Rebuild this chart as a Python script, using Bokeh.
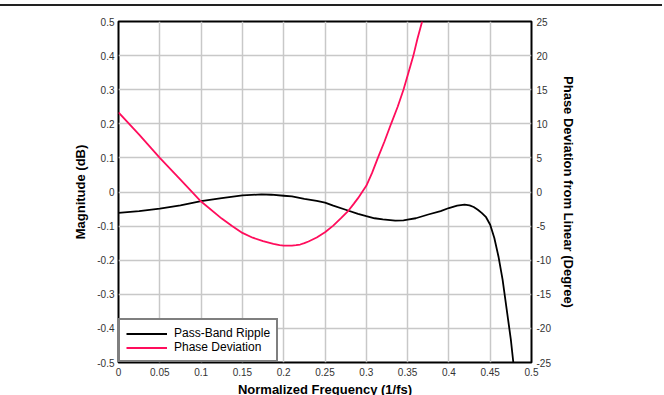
from bokeh.plotting import figure
from bokeh.models import Range1d, LinearAxis, FixedTicker, Legend, LegendItem
from bokeh.embed import file_html
from bokeh.resources import INLINE

# ---- data ----
x_ticks = [0, 0.05, 0.1, 0.15, 0.2, 0.25, 0.3, 0.35, 0.4, 0.45, 0.5]
x_labels = ["0", "0.05", "0.1", "0.15", "0.2", "0.25", "0.3", "0.35", "0.4", "0.45", "0.5"]

mag_ticks = [-0.5, -0.4, -0.3, -0.2, -0.1, 0, 0.1, 0.2, 0.3, 0.4, 0.5]
mag_labels = ["-0.5", "-0.4", "-0.3", "-0.2", "-0.1", "0", "0.1", "0.2", "0.3", "0.4", "0.5"]

phase_ticks = [-25, -20, -15, -10, -5, 0, 5, 10, 15, 20, 25]
phase_labels = ["-25", "-20", "-15", "-10", "-5", "0", "5", "10", "15", "20", "25"]

# Pass-band ripple (dB, left axis)
ripple_freq = [0, 0.025, 0.05, 0.075, 0.1, 0.125, 0.15, 0.173, 0.185, 0.2, 0.21, 0.225,
               0.24, 0.25, 0.26, 0.275, 0.29, 0.3, 0.31, 0.32, 0.335, 0.345, 0.35, 0.36,
               0.375, 0.39, 0.4, 0.41, 0.419, 0.425, 0.43, 0.435, 0.44, 0.445, 0.45,
               0.455, 0.46, 0.465, 0.47, 0.475, 0.478]
ripple_db = [-0.061, -0.056, -0.049, -0.039, -0.027, -0.018, -0.010, -0.007, -0.008, -0.011, -0.013, -0.020,
             -0.026, -0.031, -0.040, -0.052, -0.064, -0.071, -0.077, -0.080, -0.084, -0.083, -0.081, -0.077,
             -0.066, -0.056, -0.047, -0.040, -0.037, -0.039, -0.044, -0.052, -0.062, -0.074, -0.096,
             -0.135, -0.189, -0.257, -0.345, -0.433, -0.5]

# Phase deviation from linear (degree, right axis)
phase_freq = [0, 0.025, 0.05, 0.075, 0.1, 0.125, 0.1375, 0.15, 0.1625, 0.175, 0.1875,
              0.195, 0.2, 0.205, 0.21, 0.215, 0.22, 0.225, 0.23, 0.24, 0.25, 0.26, 0.27,
              0.2776, 0.285, 0.29, 0.295, 0.3, 0.307, 0.314, 0.322, 0.33, 0.338, 0.345, 0.351,
              0.357, 0.362, 0.3676]
phase_deg = [11.66, 8.4, 5.0, 1.8, -1.4, -3.9, -5.0, -6.0, -6.7, -7.2, -7.6,
             -7.8, -7.85, -7.87, -7.85, -7.8, -7.7, -7.5, -7.26, -6.68, -5.9, -4.93, -3.76,
             -2.85, -1.7, -0.9, 0.0, 0.9, 2.8, 5.0, 7.4, 10.0, 12.5, 15.0, 17.5,
             20.0, 22.5, 25.0]

FONT = "Liberation Sans"

p = figure(width=663, height=396, output_backend="svg", toolbar_location=None,
           x_range=Range1d(0, 0.5), y_range=Range1d(-0.5, 0.5),
           min_border_left=118, min_border_right=132, min_border_top=15, min_border_bottom=40,
           styles={"margin-left": "-1px", "margin-top": "4px", "margin-bottom": "-24px",
                   "border-top": "2px solid #222222", "border-left": "1px solid #777777"})
p.extra_y_ranges = {"phase": Range1d(-25, 25)}

p.outline_line_color = "black"
p.outline_line_width = 2
p.background_fill_color = "white"
p.border_fill_color = "white"

# grids
p.xgrid.ticker = FixedTicker(ticks=x_ticks)
p.ygrid.ticker = FixedTicker(ticks=mag_ticks)
for g in (p.xgrid, p.ygrid):
    g.grid_line_color = "#c8c8c8"
    g.grid_line_width = 1.5

def style_axis(ax, standoff, label_standoff):
    ax.axis_line_color = None
    ax.major_tick_out = 0
    ax.major_tick_in = 0
    ax.minor_tick_out = 0
    ax.minor_tick_in = 0
    ax.major_label_text_font = FONT
    ax.major_label_text_font_size = "10px"
    ax.major_label_text_color = "#333333"
    ax.major_label_standoff = standoff
    ax.axis_label_text_font = FONT
    ax.axis_label_text_font_style = "bold"
    ax.axis_label_text_font_size = "13px"
    ax.axis_label_text_color = "black"
    ax.axis_label_standoff = label_standoff

xa = p.xaxis[0]
xa.ticker = FixedTicker(ticks=x_ticks)
xa.major_label_overrides = dict(zip(x_ticks, x_labels))
xa.axis_label = "Normalized Frequency (1/fs)"
style_axis(xa, 5, 3)

ya = p.yaxis[0]
ya.ticker = FixedTicker(ticks=mag_ticks)
ya.major_label_overrides = dict(zip(mag_ticks, mag_labels))
ya.axis_label = "Magnitude (dB)"
style_axis(ya, 4, 6)

ra = LinearAxis(y_range_name="phase", ticker=FixedTicker(ticks=phase_ticks),
                axis_label="Phase Deviation from Linear (Degree)")
ra.major_label_overrides = dict(zip(phase_ticks, phase_labels))
style_axis(ra, 5, 7)
p.add_layout(ra, "right")

r1 = p.line(ripple_freq, ripple_db, line_color="black", line_width=1.8)
r2 = p.line(phase_freq, phase_deg, y_range_name="phase", line_color="#ff0d5c", line_width=1.8)

legend = Legend(items=[LegendItem(label="Pass-Band Ripple", renderers=[r1]),
                       LegendItem(label="Phase Deviation", renderers=[r2])],
                location="bottom_left", margin=0, padding=6, spacing=0,
                glyph_width=41, glyph_height=13, label_height=13, label_standoff=7,
                label_text_font=FONT, label_text_font_size="12px", label_text_color="black",
                border_line_color="black", border_line_width=2,
                background_fill_color="white", background_fill_alpha=1.0)
p.add_layout(legend)

open("out.html", "w").write(file_html(p, INLINE))
